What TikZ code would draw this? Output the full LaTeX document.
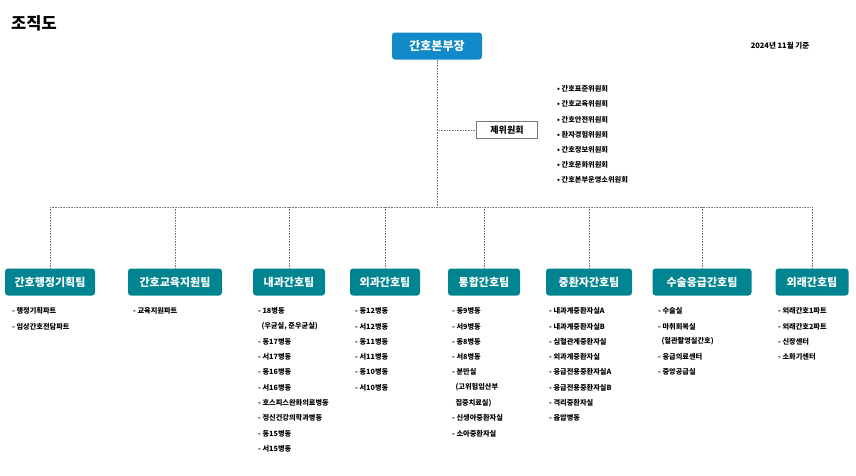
\documentclass[tikz,border=0pt]{standalone}
\usepackage{fontspec}
\setmainfont{Noto Sans CJK KR}
\usetikzlibrary{positioning}
\definecolor{hq}{RGB}{18, 137, 201}
\definecolor{tm}{RGB}{0, 132, 143}
\definecolor{ln}{RGB}{120, 120, 120}
\def\rowh{15.3}
\tikzset{x=1pt,y=-1pt,
	headbox/.style={rectangle,rounded corners=3pt,fill=hq,text=white,font=\bfseries\fontsize{12}{14}\selectfont,minimum height=27pt,minimum width=90pt},
	teambox/.style={rectangle,rounded corners=3pt,fill=tm,text=white,font=\bfseries\fontsize{11}{13}\selectfont,minimum height=27pt},
	itemtext/.style={anchor=west,inner sep=0pt,font=\bfseries\fontsize{7.2}{8}\selectfont},
	dotline/.style={draw=ln,densely dotted,line width=0.6pt}}
\newcommand{\teamlist}[3]{\foreach \txt [count=\i] in {#3} {
		\node[itemtext] (#1-\i) at (#2,311+\rowh*\i-\rowh) {\txt};}}
\begin{document}
\begin{tikzpicture}
	\useasboundingbox (0,0) rectangle (856,475);
	\node[font=\bfseries\fontsize{16.5}{18}\selectfont,anchor=west,inner sep=0pt] (title) at (11,23) {조직도};
	\node[font=\bfseries\fontsize{7.5}{8}\selectfont,inner sep=0pt] (date) at (780,46) {2024년 11월 기준};
	\node[headbox] (head) at (437,46) {간호본부장};
	\node[draw=ln,fill=white,inner sep=2pt,font=\bfseries\fontsize{9}{10}\selectfont,minimum width=61pt,minimum height=17pt] (comm) at (507,130) {제위원회};
	\foreach \txt [count=\i] in {간호표준위원회,간호교육위원회,간호안전위원회,환자경험위원회,간호정보위원회,간호문화위원회,간호본부운영소위원회}
		\node[itemtext] (c\i) at (557,89+15.2*\i-15.2) {• \txt};
	% teams
	\node[teambox,minimum width=90pt] (plan) at (50,282) {간호행정기획팀};
	\node[teambox,minimum width=94pt] (edu) at (175,282) {간호교육지원팀};
	\node[teambox,minimum width=72pt] (med) at (289,282) {내과간호팀};
	\node[teambox,minimum width=70pt] (surg) at (385,282) {외과간호팀};
	\node[teambox,minimum width=72pt] (intg) at (484,282) {통합간호팀};
	\node[teambox,minimum width=86pt] (icu) at (589,282) {중환자간호팀};
	\node[teambox,minimum width=99pt] (op) at (702,282) {수술응급간호팀};
	\node[teambox,minimum width=73pt] (opd) at (812,282) {외래간호팀};
	\coordinate (hub) at (437,207);
	\coordinate (lft) at (50,207);
	\coordinate (rgt) at (812,207);
	\draw[dotline] (head) -- (hub);
	\draw[dotline] (lft) -- (rgt);
	\draw[dotline] (comm.west |- comm) -- (437,130);
	\foreach \t in {plan,edu,med,surg,intg,icu,op,opd}
		\draw[dotline] (\t |- hub) -- (\t);
	% lists
	\teamlist{lp}{12}{- 행정기획파트,- 임상간호전담파트}
	\teamlist{le}{133}{- 교육지원파트}
	\teamlist{lm}{258}{- 18병동,{\ \ (우균실, 준우균실)},- 동17병동,- 서17병동,- 동16병동,- 서16병동,- 호스피스완화의료병동,- 정신건강의학과병동,- 동15병동,- 서15병동}
	\teamlist{ls}{355}{- 동12병동,- 서12병동,- 동11병동,- 서11병동,- 동10병동,- 서10병동}
	\teamlist{li}{452}{- 동9병동,- 서9병동,- 동8병동,- 서8병동,- 분만실,{\ \ (고위험임산부},{\ \ 집중치료실)},- 신생아중환자실,- 소아중환자실}
	\teamlist{lc}{549}{- 내과계중환자실A,- 내과계중환자실B,- 심혈관계중환자실,- 외과계중환자실,- 응급전용중환자실A,- 응급전용중환자실B,- 격리중환자실,- 음압병동}
	\teamlist{lo}{658}{- 수술실,- 마취회복실,{\ \ (혈관촬영실간호)},- 응급의료센터,- 중앙공급실}
	\teamlist{ld}{778}{- 외래간호1파트,- 외래간호2파트,- 신장센터,- 소화기센터}
\end{tikzpicture}
\end{document}
